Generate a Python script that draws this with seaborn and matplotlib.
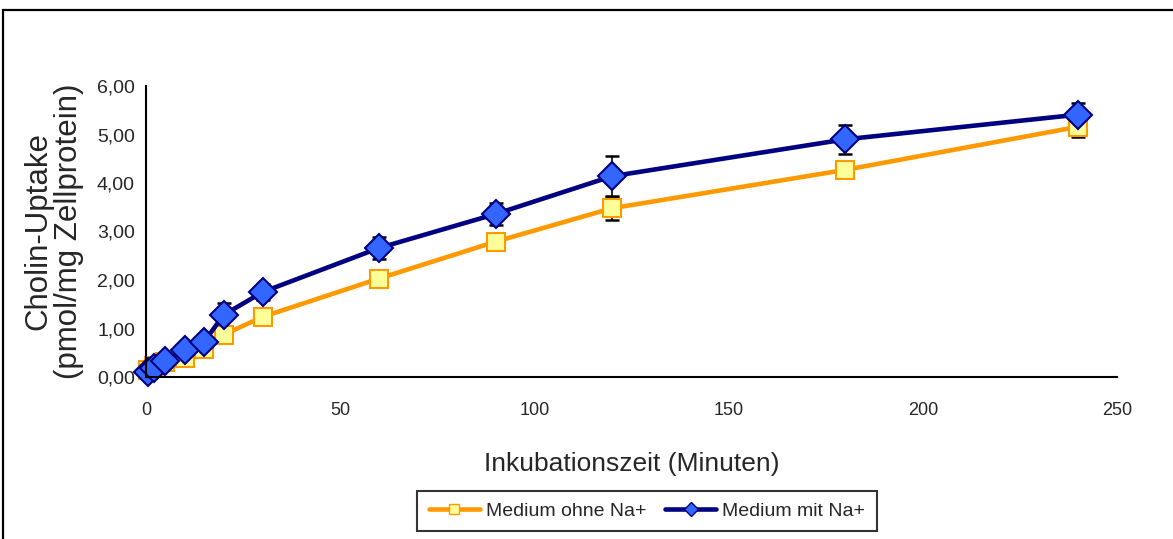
import matplotlib
matplotlib.use("Agg")
import matplotlib.pyplot as plt
import seaborn as sns
import numpy as np
from matplotlib.lines import Line2D
from matplotlib.patches import Rectangle
from matplotlib.ticker import FuncFormatter, MultipleLocator

zeit = [0.5, 2, 5, 10, 15, 20, 30, 60, 90, 120, 180, 240]
ohne_na = [0.15, 0.22, 0.30, 0.40, 0.57, 0.87, 1.24, 2.03, 2.79, 3.48, 4.27, 5.16]
ohne_na_err = [0.02, 0.02, 0.02, 0.03, 0.05, 0.10, 0.10, 0.10, 0.10, 0.24, 0.10, 0.22]
mit_na = [0.11, 0.18, 0.32, 0.56, 0.73, 1.28, 1.75, 2.66, 3.36, 4.14, 4.90, 5.41]
mit_na_err = [0.02, 0.02, 0.03, 0.05, 0.05, 0.24, 0.17, 0.22, 0.23, 0.41, 0.30, 0.23]

x_ticks = [0, 50, 100, 150, 200, 250]
label_ohne = "Medium ohne Na+"
label_mit = "Medium mit Na+"

ORANGE = "#FF9900"
GELB = "#FFFF99"
NAVY = "#000080"
BLAU = "#3366FF"

sns.set_style("white")
plt.rcParams["font.family"] = ["Liberation Sans", "DejaVu Sans"]

fig = plt.figure(figsize=(11.73, 5.39), dpi=100)
ax = fig.add_axes([146 / 1173, 1 - 377 / 539, 971 / 1173, 291 / 539])

# Fehlerbalken (unter den Linien)
ax.errorbar(zeit, ohne_na, yerr=ohne_na_err, fmt="none", ecolor="black",
            elinewidth=1.2, capsize=5, capthick=1.8, zorder=1.5, clip_on=False)
ax.errorbar(zeit, mit_na, yerr=mit_na_err, fmt="none", ecolor="black",
            elinewidth=1.2, capsize=5, capthick=1.8, zorder=1.5, clip_on=False)

sns.lineplot(x=zeit, y=ohne_na, ax=ax, color=ORANGE, linewidth=3.3,
             marker="s", markersize=12.5, markerfacecolor=GELB,
             markeredgecolor=ORANGE, markeredgewidth=1.5,
             errorbar=None, legend=False, clip_on=False)
sns.lineplot(x=zeit, y=mit_na, ax=ax, color=NAVY, linewidth=3.3,
             marker="D", markersize=14.5, markerfacecolor=BLAU,
             markeredgecolor=NAVY, markeredgewidth=1.5,
             errorbar=None, legend=False, clip_on=False)

ax.set_xlim(0, 250)
ax.set_ylim(0, 6)
ax.set_xticks(x_ticks)
ax.yaxis.set_major_locator(MultipleLocator(1))
ax.yaxis.set_major_formatter(FuncFormatter(lambda v, p: f"{v:.2f}".replace(".", ",")))

for s in ["top", "right"]:
    ax.spines[s].set_visible(False)
for s in ["left", "bottom"]:
    ax.spines[s].set_linewidth(1.5)
    ax.spines[s].set_color("black")

ax.tick_params(axis="both", direction="out", length=5, width=1.3, color="black")
ax.tick_params(axis="y", labelsize=14, pad=3)
ax.tick_params(axis="x", labelsize=13, pad=13)

ax.set_xlabel("Inkubationszeit (Minuten)", fontsize=19, labelpad=24)
ax.set_ylabel("Cholin-Uptake\n(pmol/mg Zellprotein)", fontsize=22.5, linespacing=1.05, labelpad=9)

handles = [
    Line2D([], [], color=ORANGE, linewidth=3.3, marker="s", markersize=7,
           markerfacecolor=GELB, markeredgecolor=ORANGE, markeredgewidth=1),
    Line2D([], [], color=NAVY, linewidth=3.3, marker="D", markersize=7,
           markerfacecolor=BLAU, markeredgecolor=NAVY, markeredgewidth=1),
]
leg = fig.legend(handles, [label_ohne, label_mit], loc="center",
                 bbox_to_anchor=(647 / 1173, 1 - 511 / 539), ncol=2,
                 frameon=True, fancybox=False, shadow=False,
                 prop={"size": 14}, handlelength=2.6,
                 handletextpad=0.3, columnspacing=1.0, borderpad=0.6)
leg.get_frame().set_edgecolor("black")
leg.get_frame().set_linewidth(1.5)

# Rahmen um das Diagramm
fig.patches.append(Rectangle((3 / 1173, -0.1), 1.2, 1 - 10 / 539 + 0.1,
                             transform=fig.transFigure, fill=False,
                             edgecolor="black", linewidth=1.6))

fig.savefig("out.png", dpi=100)
